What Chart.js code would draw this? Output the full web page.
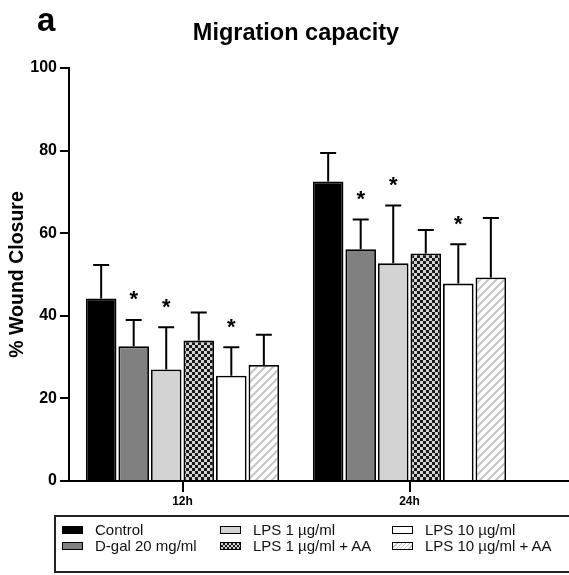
<!DOCTYPE html>
<html>
<head>
<meta charset="utf-8">
<script src="https://cdn.jsdelivr.net/npm/chart.js@4"></script>
<style>
  body { margin: 0; background: #fff; font-family: "Liberation Sans", Arial, sans-serif; }
  #wrap { position: relative; width: 569px; height: 575px; overflow: hidden; }
  #legend { position: absolute; left: 54px; top: 515px; width: 540px; height: 58px;
    border: 2px solid #222; box-sizing: border-box; font-size: 15px; color: #111; }
  .col { position: absolute; top: 5px; }
  .item { height: 16px; line-height: 16px; white-space: nowrap; }
  .sw { display: inline-block; width: 19px; height: 6px; border: 1.5px solid #000;
    vertical-align: middle; margin-right: 12px; position: relative; top: -1px; }
</style>
</head>
<body>
<div id="wrap">
  <canvas id="grafico" width="569" height="575"></canvas>
  <div id="legend"></div>
</div>
<script>
const timepoints = ['12h', '24h'];
const groupNames = ['Control', 'D-gal 20 mg/ml', 'LPS 1 µg/ml', 'LPS 1 µg/ml + AA', 'LPS 10 µg/ml', 'LPS 10 µg/ml + AA'];
const yTicks = [0, 20, 40, 60, 80, 100];

// mean % wound closure at 12h, 24h
const control = [44.2, 72.5];
const dgal    = [32.6, 56.1];
const lps1    = [27.0, 52.7];
const lps1AA  = [34.0, 55.1];
const lps10   = [25.5, 47.8];
const lps10AA = [28.1, 49.3];

// SD (upper error bar only)
const controlSD = [8.1, 6.9];
const dgalSD    = [6.4, 7.2];
const lps1SD    = [10.2, 14.0];
const lps1AASD  = [6.8, 5.7];
const lps10SD   = [6.9, 9.5];
const lps10AASD = [7.3, 14.4];

// which groups carry a * (both timepoints)
const starred = [false, true, true, false, true, false];

function checker() {
  const c = document.createElement('canvas');
  c.width = 6; c.height = 6;
  const g = c.getContext('2d');
  g.fillStyle = '#d4d4d4'; g.fillRect(0, 0, 6, 6);
  g.fillStyle = '#1a1a1a'; g.fillRect(0, 0, 3, 3); g.fillRect(3, 3, 3, 3);
  return g.createPattern(c, 'repeat');
}
function hatch() {
  const c = document.createElement('canvas');
  c.width = 8; c.height = 8;
  const g = c.getContext('2d');
  g.fillStyle = '#fff'; g.fillRect(0, 0, 8, 8);
  g.strokeStyle = '#c6c6c6'; g.lineWidth = 2;
  g.beginPath();
  g.moveTo(-1, 9); g.lineTo(9, -1);
  g.moveTo(-1, 1); g.lineTo(1, -1);
  g.moveTo(7, 9); g.lineTo(9, 7);
  g.stroke();
  return g.createPattern(c, 'repeat');
}

const means = [control, dgal, lps1, lps1AA, lps10, lps10AA];
const sds = [controlSD, dgalSD, lps1SD, lps1AASD, lps10SD, lps10AASD];
const fills = ['#000000', '#808080', '#d3d3d3', checker(), '#ffffff', hatch()];

const extras = {
  id: 'extras',
  afterDatasetsDraw(chart) {
    const ctx = chart.ctx;
    const y = chart.scales.y;
    ctx.save();
    ctx.strokeStyle = '#000';
    ctx.lineWidth = 2;
    ctx.fillStyle = '#000';
    ctx.font = 'bold 22px "Liberation Sans", Arial';
    ctx.textAlign = 'center';
    chart.data.datasets.forEach((ds, i) => {
      chart.getDatasetMeta(i).data.forEach((bar, j) => {
        const top = y.getPixelForValue(means[i][j] + sds[i][j]);
        ctx.beginPath();
        ctx.moveTo(bar.x, bar.y);
        ctx.lineTo(bar.x, top);
        ctx.moveTo(bar.x - 8, top);
        ctx.lineTo(bar.x + 8, top);
        ctx.stroke();
        if (starred[i]) ctx.fillText('*', bar.x, top - 26 + 12.5);
      });
    });
    ctx.restore();
  },
  afterDraw(chart) {
    const ctx = chart.ctx;
    const a = chart.chartArea;
    ctx.save();
    ctx.fillStyle = '#000';
    ctx.textAlign = 'center';
    ctx.font = 'bold 23.5px "Liberation Sans", Arial';
    ctx.fillText('Migration capacity', (a.left + a.right) / 2, 40);
    ctx.textAlign = 'left';
    ctx.font = 'bold 33px "Liberation Sans", Arial';
    ctx.fillText('a', 37, 31);
    ctx.strokeStyle = '#000';
    ctx.lineWidth = 2;
    ctx.beginPath();
    ctx.moveTo(a.right - 1, a.bottom);
    ctx.lineTo(chart.width, a.bottom);
    ctx.stroke();
    ctx.restore();
  }
};

const ctx = document.getElementById('grafico').getContext('2d');
new Chart(ctx, {
  type: 'bar',
  data: {
    labels: timepoints,
    datasets: groupNames.map((name, i) => ({
      label: name,
      data: means[i],
      backgroundColor: fills[i],
      borderColor: '#000',
      borderWidth: 1.8,
      categoryPercentage: 0.86,
      barPercentage: 0.94
    }))
  },
  options: {
    responsive: false,
    animation: false,
    devicePixelRatio: 1,
    layout: { padding: { top: 68, right: 46, left: 0, bottom: 0 } },
    plugins: { legend: { display: false }, tooltip: { enabled: false } },
    scales: {
      x: {
        grid: { drawOnChartArea: false, offset: false, tickLength: 11, color: '#000', lineWidth: 2 },
        border: { color: '#000', width: 2 },
        ticks: { color: '#000', padding: 2, font: { family: '"Liberation Sans", Arial', size: 12, weight: 'bold' } },
        afterFit: s => { s.height = 94; }
      },
      y: {
        min: yTicks[0],
        max: yTicks[yTicks.length - 1],
        ticks: { stepSize: yTicks[1] - yTicks[0], color: '#000', padding: 3,
          font: { family: '"Liberation Sans", Arial', size: 16, weight: 'bold' } },
        grid: { drawOnChartArea: false, tickLength: 9, color: '#000', lineWidth: 2 },
        border: { color: '#000', width: 2 },
        title: { display: true, text: '% Wound Closure', color: '#000', padding: { top: 6, bottom: 0 },
          font: { family: '"Liberation Sans", Arial', size: 19.5, weight: 'bold' } },
        afterFit: s => { s.width = 69; }
      }
    }
  },
  plugins: [extras]
});

// legend laid out in columns like the original
const legendCss = ['#000', '#808080', '#d3d3d3',
  'repeating-conic-gradient(#1a1a1a 0% 25%, #d4d4d4 0% 50%) 0 0 / 4px 4px',
  '#fff',
  'repeating-linear-gradient(-45deg, #fff 0 2px, #c6c6c6 2px 3px)'];
const colLeft = [6, 164, 336];
const legend = document.getElementById('legend');
colLeft.forEach((left, c) => {
  const col = document.createElement('div');
  col.className = 'col';
  col.style.left = left + 'px';
  [0, 1].forEach(r => {
    const k = c * 2 + r;
    const item = document.createElement('div');
    item.className = 'item';
    const sw = document.createElement('span');
    sw.className = 'sw';
    sw.style.background = legendCss[k];
    item.appendChild(sw);
    item.appendChild(document.createTextNode(groupNames[k]));
    col.appendChild(item);
  });
  legend.appendChild(col);
});
</script>
</body>
</html>
